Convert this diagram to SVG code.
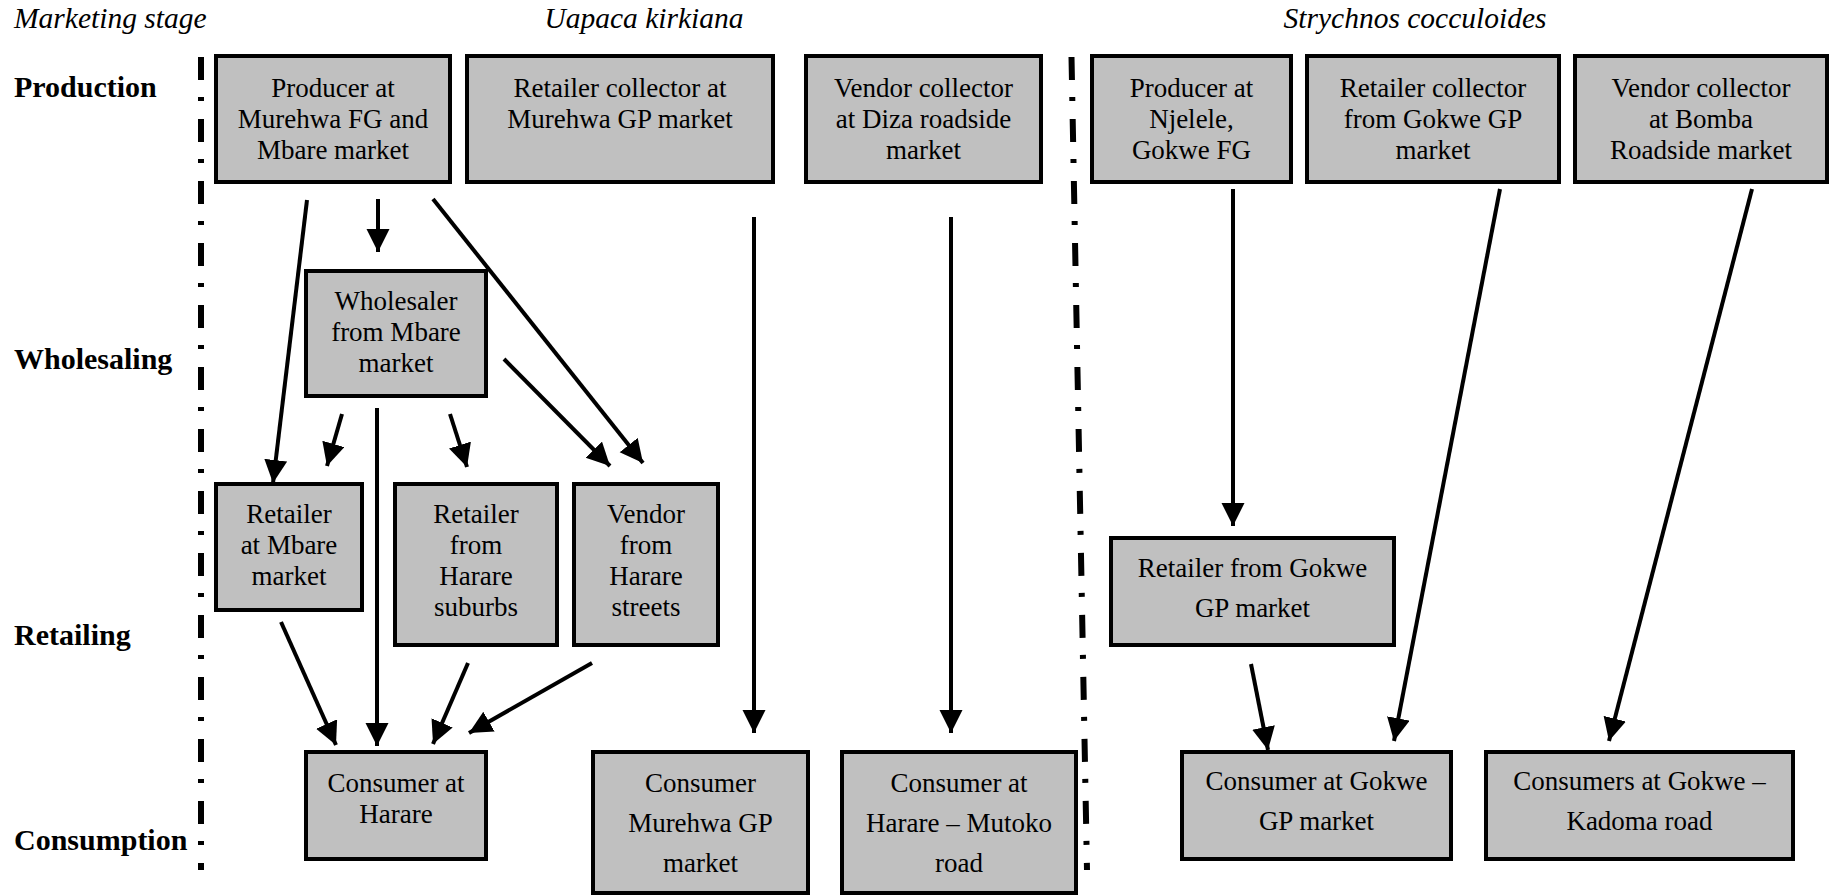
<svg xmlns="http://www.w3.org/2000/svg" width="1834" height="896" viewBox="0 0 1834 896">
<defs>
<style>
.box{fill:#c0c0c0;stroke:#000;stroke-width:4}
.t{font-family:"Liberation Serif","Times New Roman",serif;font-size:27px;fill:#000;text-anchor:middle}
.lab{font-family:"Liberation Serif","Times New Roman",serif;font-size:30px;font-weight:bold;fill:#000}
.hd{font-family:"Liberation Serif","Times New Roman",serif;font-size:29.5px;font-style:italic;fill:#000}
.dd{stroke:#000;stroke-width:6;fill:none;stroke-dasharray:23 17 4 18}
.c{stroke:#000;stroke-width:4;fill:none;marker-end:url(#ah)}
</style>
<marker id="ah" markerUnits="userSpaceOnUse" markerWidth="25" markerHeight="25" refX="23" refY="11.5" orient="auto">
<path d="M0,0 L23,11.5 L0,23 z" fill="#000"/>
</marker>
</defs>
<rect width="1834" height="896" fill="#fff"/>
<g id="headings">
<text class="hd" x="14" y="28">Marketing stage</text>
<text class="hd" x="644" y="28" text-anchor="middle">Uapaca kirkiana</text>
<text class="hd" x="1415" y="28" text-anchor="middle">Strychnos cocculoides</text>
</g>
<g id="stages">
<text class="lab" x="14" y="97">Production</text>
<text class="lab" x="14" y="369">Wholesaling</text>
<text class="lab" x="14" y="645">Retailing</text>
<text class="lab" x="14" y="850">Consumption</text>
</g>
<g id="dividers">
<line class="dd" x1="201" y1="57" x2="201" y2="870"/>
<line class="dd" x1="1071.5" y1="57" x2="1087" y2="870"/>
</g>
<g id="n1"><rect class="box" x="216" y="56" width="234" height="126"/>
<text class="t" x="333" y="97">Producer at</text><text class="t" x="333" y="128">Murehwa FG and</text><text class="t" x="333" y="159">Mbare market</text></g>
<g id="n2"><rect class="box" x="467" y="56" width="306" height="126"/>
<text class="t" x="620" y="97">Retailer collector at</text><text class="t" x="620" y="128">Murehwa GP market</text></g>
<g id="n3"><rect class="box" x="806" y="56" width="235" height="126"/>
<text class="t" x="923.5" y="97">Vendor collector</text><text class="t" x="923.5" y="128">at Diza roadside</text><text class="t" x="923.5" y="159">market</text></g>
<g id="n4"><rect class="box" x="1092" y="56" width="199" height="126"/>
<text class="t" x="1191.5" y="97">Producer at</text><text class="t" x="1191.5" y="128">Njelele,</text><text class="t" x="1191.5" y="159">Gokwe FG</text></g>
<g id="n5"><rect class="box" x="1307" y="56" width="252" height="126"/>
<text class="t" x="1433" y="97">Retailer collector</text><text class="t" x="1433" y="128">from Gokwe GP</text><text class="t" x="1433" y="159">market</text></g>
<g id="n6"><rect class="box" x="1575" y="56" width="252" height="126"/>
<text class="t" x="1701" y="97">Vendor collector</text><text class="t" x="1701" y="128">at Bomba</text><text class="t" x="1701" y="159">Roadside market</text></g>
<g id="n7"><rect class="box" x="306" y="271" width="180" height="125"/>
<text class="t" x="396" y="310">Wholesaler</text><text class="t" x="396" y="341">from Mbare</text><text class="t" x="396" y="372">market</text></g>
<g id="n8"><rect class="box" x="216" y="484" width="146" height="126"/>
<text class="t" x="289" y="523">Retailer</text><text class="t" x="289" y="554">at Mbare</text><text class="t" x="289" y="585">market</text></g>
<g id="n9"><rect class="box" x="395" y="484" width="162" height="161"/>
<text class="t" x="476" y="523">Retailer</text><text class="t" x="476" y="554">from</text><text class="t" x="476" y="585">Harare</text><text class="t" x="476" y="616">suburbs</text></g>
<g id="n10"><rect class="box" x="574" y="484" width="144" height="161"/>
<text class="t" x="646" y="523">Vendor</text><text class="t" x="646" y="554">from</text><text class="t" x="646" y="585">Harare</text><text class="t" x="646" y="616">streets</text></g>
<g id="n11"><rect class="box" x="1111" y="538" width="283" height="107"/>
<text class="t" x="1252.5" y="577">Retailer from Gokwe</text><text class="t" x="1252.5" y="617">GP market</text></g>
<g id="n12"><rect class="box" x="306" y="752" width="180" height="107"/>
<text class="t" x="396" y="792">Consumer at</text><text class="t" x="396" y="823">Harare</text></g>
<g id="n13"><rect class="box" x="593" y="752" width="215" height="141"/>
<text class="t" x="700.5" y="792">Consumer</text><text class="t" x="700.5" y="832">Murehwa GP</text><text class="t" x="700.5" y="872">market</text></g>
<g id="n14"><rect class="box" x="842" y="752" width="234" height="141"/>
<text class="t" x="959" y="792">Consumer at</text><text class="t" x="959" y="832">Harare – Mutoko</text><text class="t" x="959" y="872">road</text></g>
<g id="n15"><rect class="box" x="1182" y="752" width="269" height="107"/>
<text class="t" x="1316.5" y="790">Consumer at Gokwe</text><text class="t" x="1316.5" y="830">GP market</text></g>
<g id="n16"><rect class="box" x="1486" y="752" width="307" height="107"/>
<text class="t" x="1639.5" y="790">Consumers at Gokwe –</text><text class="t" x="1639.5" y="830">Kadoma road</text></g>
<g id="connectors">
<line class="c" x1="307" y1="200" x2="273" y2="483"/>
<line class="c" x1="378" y1="199" x2="378" y2="252"/>
<line class="c" x1="433" y1="199" x2="643" y2="463"/>
<line class="c" x1="342" y1="414" x2="327" y2="466"/>
<line class="c" x1="377" y1="408" x2="377" y2="746"/>
<line class="c" x1="450" y1="414" x2="467" y2="467"/>
<line class="c" x1="504" y1="359" x2="610" y2="466"/>
<line class="c" x1="281" y1="622" x2="336" y2="745"/>
<line class="c" x1="468" y1="663" x2="433" y2="744"/>
<line class="c" x1="592" y1="663" x2="469" y2="733"/>
<line class="c" x1="754" y1="217" x2="754" y2="733"/>
<line class="c" x1="951" y1="217" x2="951" y2="733"/>
<line class="c" x1="1233" y1="189" x2="1233" y2="526"/>
<line class="c" x1="1500" y1="189" x2="1394" y2="741"/>
<line class="c" x1="1752" y1="189" x2="1609" y2="741"/>
<line class="c" x1="1251" y1="664" x2="1268" y2="750"/>
</g>
</svg>
